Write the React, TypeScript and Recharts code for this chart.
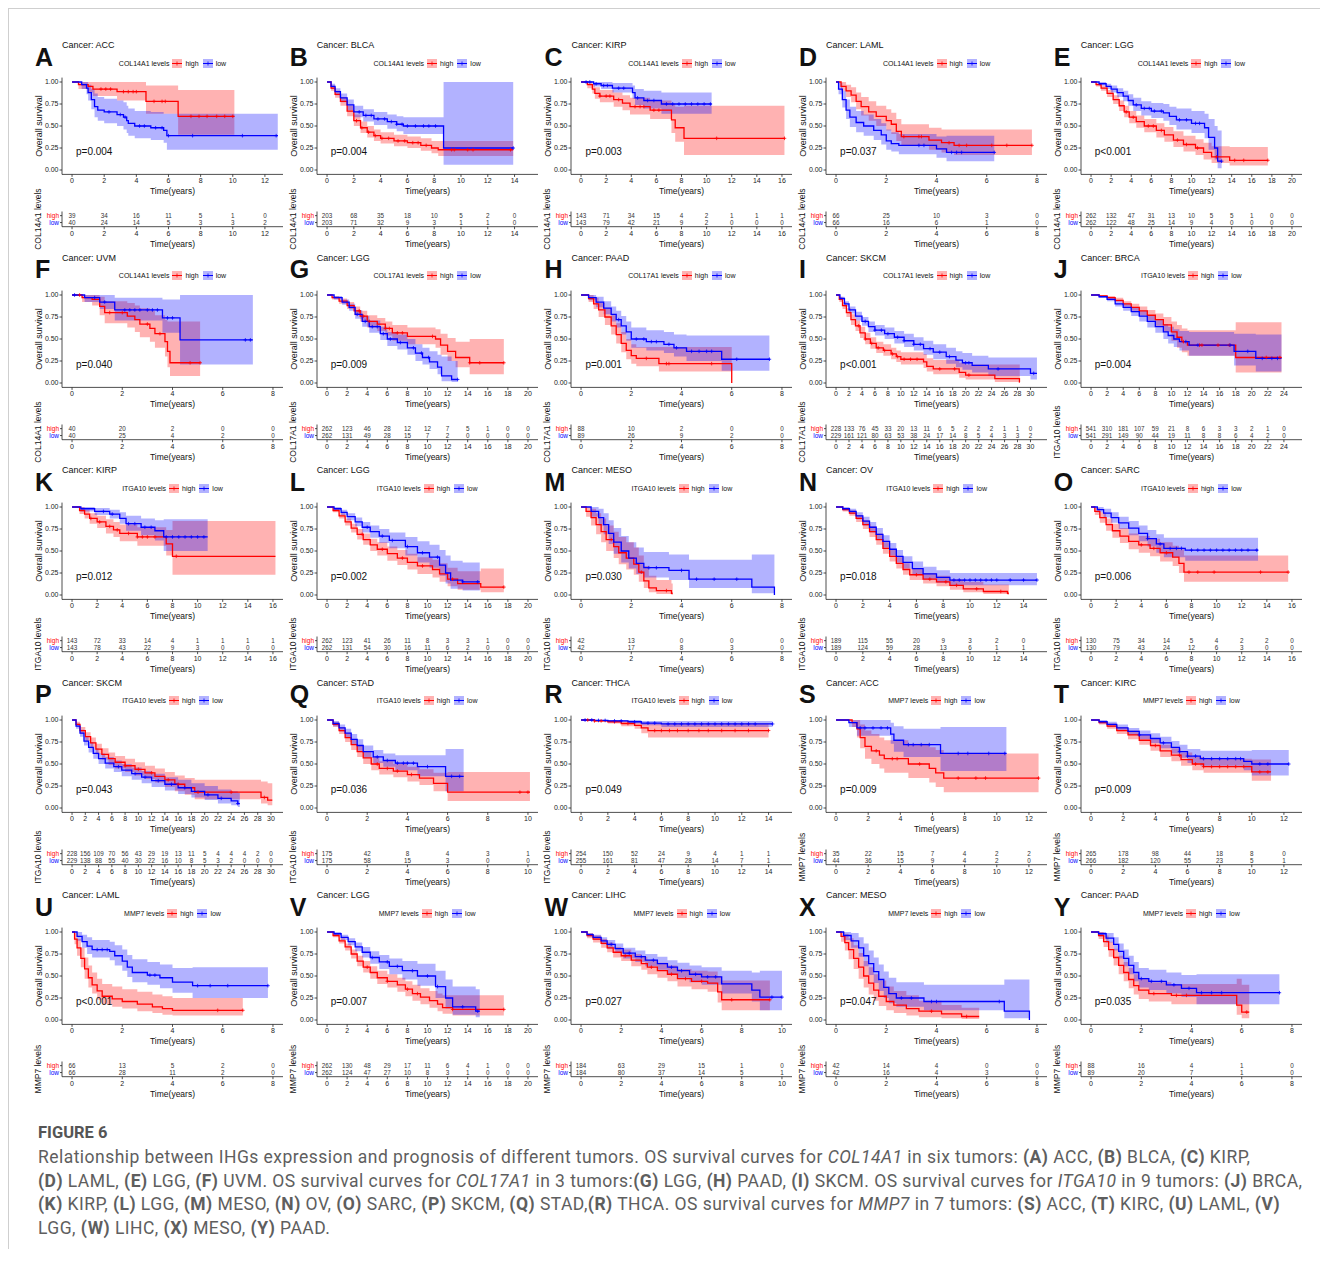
import React from 'react';
import { ComposedChart, Area, Line, Scatter, XAxis, YAxis } from 'recharts';

// each curve point: [time, survival, lower CI, upper CI]
type Pt = number[];

const A_high: Pt[] = [[0,1,1,1],[0.4,0.97,0.92,1],[1.0,0.95,0.88,1],[1.3,0.92,0.84,1],[2.8,0.89,0.79,1],[4.6,0.78,0.64,0.96],[6.6,0.61,0.40,0.91],[10.1,0.61,0.40,0.91]];
const A_low: Pt[] = [[0,1,1,1],[0.6,0.97,0.92,1],[0.9,0.93,0.86,1],[1.0,0.88,0.79,0.97],[1.2,0.80,0.69,0.92],[1.4,0.72,0.60,0.87],[1.6,0.68,0.56,0.83],[2.0,0.66,0.53,0.81],[2.8,0.63,0.50,0.79],[3.2,0.60,0.46,0.77],[3.4,0.56,0.42,0.73],[3.5,0.53,0.39,0.70],[3.9,0.50,0.36,0.67],[4.9,0.48,0.34,0.66],[5.7,0.45,0.31,0.64],[5.9,0.39,0.23,0.64],[12.8,0.39,0.23,0.64]];
const A_highCens = [1.8,2.1,2.4,3.2,3.5,3.8,4.0,5.1,5.6,5.8,7.4,7.9,8.4,9.0,9.5,10.0];
const A_lowCens = [2.3,3.0,3.3,4.2,4.5,5.2,5.6,6.0,7.5,10.6,12.7];

const B_high: Pt[] = [[0,1,1,1],[0.3,0.93,0.90,0.96],[0.6,0.86,0.82,0.90],[1.0,0.78,0.73,0.83],[1.5,0.67,0.61,0.73],[2.0,0.56,0.50,0.63],[2.5,0.48,0.42,0.55],[3.0,0.43,0.37,0.50],[3.5,0.39,0.33,0.46],[4.0,0.36,0.30,0.43],[5.0,0.33,0.27,0.40],[6.0,0.31,0.25,0.38],[7.0,0.28,0.22,0.36],[7.8,0.25,0.19,0.33],[8.3,0.23,0.16,0.33],[13.9,0.23,0.16,0.33]];
const B_low: Pt[] = [[0,1,1,1],[0.3,0.95,0.92,0.98],[0.6,0.89,0.85,0.93],[1.0,0.82,0.77,0.87],[1.5,0.74,0.68,0.80],[2.0,0.66,0.60,0.73],[2.7,0.62,0.55,0.69],[3.5,0.58,0.51,0.66],[4.5,0.55,0.47,0.63],[5.2,0.52,0.44,0.61],[5.7,0.50,0.41,0.60],[8.7,0.25,0.06,1.0],[13.9,0.25,0.06,1.0]];
const B_highCens = [2.2,2.6,3.1,3.6,4.1,4.6,5.3,5.8,6.4,6.8,7.4,9.3,9.5,10.5,10.9,13.7];
const B_lowCens = [2.4,2.9,3.3,3.8,4.3,4.8,5.2,5.6,6.0,6.6,7.2,7.6,8.1,13.9];

const C_high: Pt[] = [[0,1,1,1],[0.5,0.97,0.93,1],[0.9,0.92,0.87,0.98],[1.1,0.87,0.81,0.94],[1.5,0.84,0.77,0.91],[2.6,0.80,0.72,0.88],[3.3,0.76,0.68,0.85],[3.9,0.72,0.63,0.82],[5.5,0.68,0.58,0.79],[7.2,0.57,0.42,0.75],[7.5,0.48,0.32,0.72],[8.2,0.36,0.17,0.73],[16.2,0.36,0.17,0.73]];
const C_low: Pt[] = [[0,1,1,1],[1.0,0.98,0.95,1],[1.6,0.96,0.92,1],[2.5,0.93,0.88,0.99],[4.1,0.88,0.81,0.96],[4.3,0.82,0.74,0.92],[5.0,0.79,0.70,0.90],[6.4,0.75,0.64,0.88],[10.4,0.75,0.64,0.88]];
const C_highCens = [1.5,2.0,2.3,3.0,4.3,4.7,5.0,5.8,6.2,10.8,16.2];
const C_lowCens = [0.4,0.7,1.2,1.8,2.1,3.0,3.4,4.5,5.3,5.8,6.8,7.3,7.8,8.3,8.8,9.3,9.8,10.3];

const D_high: Pt[] = [[0,1,1,1],[0.2,0.95,0.90,1],[0.4,0.90,0.83,0.97],[0.6,0.85,0.77,0.94],[0.8,0.78,0.69,0.88],[1.0,0.72,0.62,0.83],[1.3,0.66,0.56,0.78],[1.6,0.61,0.50,0.73],[2.0,0.56,0.45,0.69],[2.2,0.52,0.41,0.65],[2.4,0.44,0.33,0.58],[2.6,0.38,0.28,0.52],[3.7,0.34,0.23,0.48],[4.2,0.31,0.20,0.46],[4.7,0.28,0.17,0.46],[7.8,0.28,0.17,0.46]];
const D_low: Pt[] = [[0,1,1,1],[0.1,0.92,0.86,0.99],[0.25,0.80,0.71,0.90],[0.4,0.68,0.58,0.80],[0.55,0.60,0.49,0.72],[0.8,0.54,0.43,0.67],[1.1,0.50,0.39,0.63],[1.5,0.45,0.34,0.58],[1.8,0.40,0.29,0.53],[2.0,0.33,0.23,0.46],[2.2,0.30,0.21,0.43],[2.5,0.28,0.18,0.41],[4.0,0.24,0.14,0.38],[4.4,0.20,0.10,0.39],[6.3,0.20,0.10,0.39]];
const D_highCens = [2.7,3.3,3.4,4.5,4.9,5.2,6.2,6.8,7.8];
const D_lowCens = [3.3,3.5,4.6,4.8,5.0,6.3];

const E_high: Pt[] = [[0,1,1,1],[0.5,0.97,0.95,0.99],[1,0.93,0.90,0.96],[1.6,0.87,0.83,0.91],[2.2,0.80,0.75,0.85],[2.8,0.73,0.67,0.79],[3.3,0.66,0.60,0.73],[3.8,0.60,0.53,0.67],[4.5,0.55,0.48,0.62],[5.3,0.50,0.43,0.58],[6.5,0.45,0.37,0.53],[7.3,0.40,0.32,0.49],[8.2,0.34,0.26,0.44],[9.2,0.29,0.21,0.39],[10.4,0.25,0.17,0.35],[11.2,0.20,0.12,0.31],[12.0,0.15,0.08,0.27],[13.8,0.11,0.05,0.26],[17.6,0.11,0.05,0.26]];
const E_low: Pt[] = [[0,1,1,1],[0.8,0.98,0.96,1],[1.5,0.95,0.92,0.98],[2.0,0.92,0.88,0.96],[2.6,0.88,0.83,0.93],[3.2,0.84,0.78,0.90],[3.7,0.79,0.73,0.86],[4.2,0.74,0.67,0.82],[5.0,0.70,0.62,0.78],[6.0,0.67,0.59,0.76],[7.2,0.65,0.56,0.75],[7.8,0.61,0.51,0.72],[8.5,0.57,0.46,0.70],[10.0,0.53,0.42,0.67],[11.3,0.48,0.36,0.64],[11.7,0.37,0.23,0.58],[12.3,0.25,0.12,0.50],[12.6,0.10,0.02,0.45],[13.0,0.10,0.02,0.45]];
const E_highCens = [3.5,4.2,5.7,6.2,7.0,8.6,9.5,10.6,12.5,14.3,15.2,17.6];
const E_lowCens = [4.5,5.3,5.8,6.3,7.0,8.8,9.5,10.4,10.8,13.0];

const F_high: Pt[] = [[0,1,1,1],[0.4,0.97,0.92,1],[0.8,0.95,0.88,1],[1.1,0.87,0.77,0.98],[1.3,0.80,0.68,0.93],[2.2,0.76,0.63,0.91],[2.5,0.72,0.58,0.88],[2.7,0.67,0.52,0.85],[3.1,0.62,0.47,0.82],[3.3,0.56,0.40,0.77],[3.7,0.47,0.30,0.72],[3.8,0.36,0.18,0.70],[3.9,0.23,0.08,0.70],[5.1,0.23,0.08,0.70]];
const F_low: Pt[] = [[0,1,1,1],[0.5,0.97,0.92,1],[1.1,0.92,0.84,1],[1.7,0.83,0.71,0.97],[3.6,0.74,0.57,0.95],[4.3,0.49,0.21,1.0],[7.2,0.49,0.21,1.0]];
const F_highCens = [0.3,1.5,2.0,3.0,3.5,4.7,5.1];
const F_lowCens = [0.1,0.9,1.3,2.1,2.3,2.5,2.7,3.0,3.2,3.4,3.8,4.0,6.9,7.1];

const G_high: Pt[] = [[0,1,1,1],[0.5,0.97,0.95,0.99],[1.2,0.93,0.90,0.96],[2,0.88,0.84,0.92],[2.7,0.82,0.77,0.87],[3.3,0.76,0.70,0.82],[4,0.70,0.63,0.77],[5,0.67,0.59,0.74],[5.8,0.62,0.54,0.70],[6.5,0.57,0.48,0.66],[8,0.53,0.44,0.63],[10.8,0.50,0.40,0.61],[11.3,0.43,0.32,0.56],[12.0,0.36,0.25,0.51],[12.8,0.29,0.18,0.47],[14.2,0.23,0.10,0.50],[17.6,0.23,0.10,0.50]];
const G_low: Pt[] = [[0,1,1,1],[0.7,0.97,0.95,0.99],[1.5,0.92,0.89,0.95],[2.2,0.86,0.82,0.90],[2.8,0.78,0.73,0.83],[3.5,0.70,0.64,0.76],[4.2,0.64,0.57,0.71],[5.3,0.56,0.49,0.64],[6.0,0.50,0.42,0.58],[7.0,0.46,0.38,0.55],[8.0,0.40,0.32,0.50],[8.8,0.34,0.25,0.44],[9.5,0.29,0.21,0.40],[10.2,0.24,0.16,0.36],[11.0,0.18,0.10,0.32],[11.4,0.08,0.02,0.30],[12.4,0.04,0.01,0.25],[13.0,0.04,0.01,0.25]];
const G_highCens = [3.2,3.6,4.2,5.8,6.2,7.0,7.5,10.5,14.2,15.2,17.6];
const G_lowCens = [3.0,3.8,4.5,5.0,5.6,6.3,7.3,8.6,9.4,10.1,13.0];

const H_high: Pt[] = [[0,1,1,1],[0.3,0.96,0.92,1],[0.5,0.90,0.84,0.97],[0.7,0.83,0.75,0.91],[0.95,0.75,0.66,0.85],[1.2,0.65,0.55,0.77],[1.4,0.55,0.45,0.68],[1.6,0.45,0.35,0.58],[1.8,0.37,0.27,0.50],[2.0,0.31,0.22,0.44],[2.2,0.28,0.19,0.41],[3.1,0.22,0.13,0.41],[6.0,0,0,0]];
const H_low: Pt[] = [[0,1,1,1],[0.3,0.97,0.94,1],[0.6,0.92,0.86,0.98],[0.9,0.85,0.78,0.93],[1.2,0.78,0.70,0.87],[1.4,0.72,0.63,0.82],[1.6,0.65,0.55,0.76],[1.8,0.58,0.48,0.70],[2.0,0.50,0.40,0.63],[2.6,0.47,0.37,0.60],[3.3,0.44,0.34,0.58],[3.7,0.40,0.30,0.55],[4.2,0.36,0.25,0.54],[5.6,0.27,0.14,0.54],[7.5,0.27,0.14,0.54]];
const H_highCens = [2.6,3.4,3.5,5.2];
const H_lowCens = [1.5,2.2,2.5,2.8,3.0,3.5,3.8,4.4,4.7,5.0,5.2,6.2,7.5];

const I_high: Pt[] = [[0,1,1,1],[0.5,0.95,0.92,0.98],[1.0,0.88,0.84,0.92],[1.6,0.80,0.75,0.85],[2.3,0.72,0.66,0.78],[3.0,0.65,0.59,0.71],[3.7,0.57,0.51,0.64],[4.5,0.50,0.44,0.57],[5.3,0.45,0.39,0.52],[6.2,0.40,0.34,0.47],[7.3,0.37,0.31,0.44],[8.5,0.33,0.27,0.40],[9.3,0.30,0.24,0.37],[10.0,0.27,0.21,0.35],[13.5,0.24,0.17,0.33],[14.0,0.19,0.13,0.28],[15.0,0.16,0.10,0.26],[19.0,0.12,0.06,0.23],[20.0,0.09,0.04,0.21],[24.5,0.05,0.01,0.21],[28.3,0.01,0.0,0.21],[28.35,0.01,0.0,0.21]];
const I_low: Pt[] = [[0,1,1,1],[0.6,0.96,0.94,0.98],[1.3,0.90,0.87,0.93],[2.0,0.83,0.79,0.87],[3.0,0.76,0.71,0.81],[4.0,0.70,0.65,0.75],[5.0,0.64,0.58,0.70],[6.0,0.60,0.54,0.66],[7.5,0.56,0.50,0.63],[9.0,0.52,0.45,0.59],[10.5,0.48,0.41,0.56],[12.0,0.44,0.37,0.52],[13.5,0.39,0.32,0.48],[15.0,0.35,0.27,0.44],[17.0,0.30,0.22,0.40],[18.5,0.26,0.18,0.36],[19.5,0.23,0.15,0.34],[21.0,0.20,0.12,0.31],[23.5,0.16,0.08,0.29],[30.0,0.11,0.04,0.29],[31.0,0.11,0.04,0.29]];
const I_highCens = [3.5,4.5,5.5,6.5,7.5,8.7,9.5,10.5,11.5,12.5,16.0,18.3,20.5];
const I_lowCens = [4.5,6.0,7.0,8.0,9.5,10.5,12.0,13.0,14.5,16.0,17.5,20.0,20.5,25.0,30.5];

const J_high: Pt[] = [[0,1,1,1],[1,0.99,0.98,1],[2,0.97,0.95,0.99],[3,0.94,0.92,0.97],[4,0.90,0.87,0.93],[5,0.86,0.82,0.90],[6,0.82,0.77,0.87],[7,0.77,0.71,0.83],[8,0.72,0.65,0.79],[9,0.66,0.58,0.75],[10,0.58,0.48,0.70],[10.7,0.52,0.40,0.66],[11.3,0.47,0.35,0.62],[12,0.43,0.31,0.60],[18,0.29,0.12,0.69],[23.7,0.29,0.12,0.69]];
const J_low: Pt[] = [[0,1,1,1],[1,0.98,0.97,0.99],[2,0.95,0.93,0.97],[3,0.90,0.87,0.93],[4,0.86,0.82,0.90],[5,0.81,0.76,0.86],[6,0.76,0.70,0.82],[7,0.70,0.63,0.77],[8,0.64,0.57,0.72],[9,0.58,0.50,0.67],[9.6,0.54,0.45,0.64],[10.3,0.50,0.41,0.61],[11,0.47,0.37,0.59],[12.2,0.43,0.31,0.58],[17.8,0.36,0.20,0.56],[20.5,0.28,0.13,0.55],[23.7,0.28,0.13,0.55]];
const J_highCens = [11.5,13.5,13.8,15.8,17.2,21.8,23.5];
const J_lowCens = [11.8,13.3,17.3,19.5,21.3,22.5,23.2];

const K_high: Pt[] = [[0,1,1,1],[0.6,0.96,0.92,1],[1.0,0.92,0.87,0.97],[1.4,0.87,0.81,0.93],[2.0,0.83,0.76,0.90],[2.7,0.78,0.70,0.86],[3.3,0.74,0.66,0.83],[3.8,0.70,0.61,0.80],[5.2,0.66,0.56,0.77],[7.5,0.58,0.45,0.74],[8.0,0.44,0.23,0.84],[16.2,0.44,0.23,0.84]];
const K_low: Pt[] = [[0,1,1,1],[0.7,0.98,0.95,1],[1.8,0.95,0.91,0.99],[3.0,0.92,0.87,0.97],[3.8,0.87,0.81,0.94],[4.3,0.81,0.73,0.90],[5.5,0.77,0.68,0.87],[6.6,0.73,0.62,0.85],[7.3,0.66,0.50,0.86],[10.8,0.66,0.50,0.86]];
const K_highCens = [1.5,2.2,3.0,3.6,4.5,5.2,5.6,6.0,6.6,8.3];
const K_lowCens = [2.5,3.2,4.5,5.0,5.8,6.3,7.5,8.0,8.5,9.0,9.5,10.0,10.5];

const L_high: Pt[] = [[0,1,1,1],[0.6,0.96,0.94,0.98],[1.2,0.90,0.87,0.93],[1.8,0.83,0.79,0.87],[2.4,0.76,0.71,0.81],[3.0,0.69,0.63,0.75],[3.6,0.63,0.57,0.70],[4.3,0.57,0.50,0.64],[5.0,0.52,0.45,0.60],[6.0,0.47,0.39,0.55],[7.0,0.42,0.34,0.51],[8.0,0.37,0.29,0.47],[9.0,0.33,0.24,0.43],[10.5,0.29,0.20,0.40],[11.2,0.24,0.15,0.36],[12.0,0.18,0.10,0.31],[13.0,0.13,0.06,0.27],[15.3,0.09,0.03,0.30],[17.6,0.09,0.03,0.30]];
const L_low: Pt[] = [[0,1,1,1],[0.7,0.98,0.96,1],[1.4,0.94,0.91,0.97],[2.0,0.89,0.85,0.93],[2.8,0.83,0.78,0.88],[3.5,0.77,0.71,0.83],[4.3,0.72,0.65,0.79],[5.2,0.67,0.59,0.75],[6.2,0.62,0.53,0.71],[7.8,0.55,0.45,0.66],[9.0,0.48,0.37,0.61],[10.2,0.43,0.31,0.57],[11.2,0.34,0.22,0.51],[11.8,0.25,0.13,0.45],[12.3,0.17,0.07,0.39],[13.5,0.15,0.05,0.37],[15.2,0.15,0.05,0.37]];
const L_highCens = [3.5,5.5,7.5,9.5,12.5,17.6];
const L_lowCens = [4.0,5.5,6.5,8.0,9.5,11.0,13.5,15.0];

const M_high: Pt[] = [[0,1,1,1],[0.2,0.95,0.89,1],[0.4,0.88,0.79,0.98],[0.6,0.80,0.69,0.93],[0.8,0.72,0.60,0.87],[1.0,0.63,0.50,0.79],[1.3,0.55,0.42,0.72],[1.5,0.48,0.35,0.66],[1.8,0.42,0.29,0.60],[2.1,0.35,0.23,0.54],[2.3,0.26,0.15,0.45],[2.5,0.16,0.08,0.33],[2.7,0.08,0.03,0.22],[3.0,0.05,0.01,0.17],[3.6,0.02,0.0,0.13],[3.65,0.02,0.0,0.13]];
const M_low: Pt[] = [[0,1,1,1],[0.4,0.95,0.89,1],[0.7,0.88,0.79,0.98],[0.9,0.80,0.69,0.93],[1.1,0.70,0.58,0.85],[1.3,0.60,0.47,0.76],[1.6,0.50,0.37,0.67],[1.9,0.42,0.30,0.60],[2.2,0.36,0.24,0.54],[2.5,0.31,0.20,0.49],[3.5,0.28,0.17,0.46],[4.3,0.18,0.08,0.40],[6.8,0.09,0.02,0.46],[7.7,0,0,0]];
const M_highCens = [1.2,2.4,3.4];
const M_lowCens = [2.7,3.0,4.0,4.6,5.3,6.2];

const N_high: Pt[] = [[0,1,1,1],[0.5,0.97,0.95,0.99],[1.0,0.93,0.90,0.96],[1.5,0.87,0.83,0.91],[2.0,0.80,0.75,0.85],[2.5,0.72,0.66,0.78],[3.0,0.63,0.57,0.70],[3.5,0.53,0.47,0.60],[4.0,0.44,0.38,0.51],[4.5,0.36,0.30,0.43],[5.0,0.29,0.23,0.36],[5.5,0.23,0.17,0.30],[6.5,0.18,0.13,0.25],[7.5,0.15,0.10,0.22],[8.5,0.11,0.06,0.18],[9.5,0.07,0.03,0.15],[11.0,0.04,0.01,0.12],[12.8,0.02,0.0,0.12],[12.9,0.02,0,0.12]];
const N_low: Pt[] = [[0,1,1,1],[0.5,0.98,0.96,1],[1.0,0.95,0.92,0.98],[1.5,0.90,0.86,0.94],[2.0,0.84,0.79,0.89],[2.5,0.77,0.71,0.83],[3.0,0.69,0.63,0.76],[3.5,0.61,0.54,0.68],[4.0,0.52,0.45,0.59],[4.5,0.44,0.37,0.51],[5.0,0.37,0.30,0.44],[5.7,0.30,0.24,0.38],[6.5,0.24,0.18,0.32],[7.5,0.20,0.14,0.28],[8.5,0.17,0.11,0.25],[15.0,0.17,0.11,0.25]];
const N_highCens = [6.0,7.0,8.2,9.0,10.5,12.3];
const N_lowCens = [8.8,9.2,9.6,10.0,10.4,10.8,11.2,11.6,12.0,13.0,14.0,15.0];

const O_high: Pt[] = [[0,1,1,1],[0.3,0.95,0.91,0.99],[0.7,0.88,0.82,0.94],[1.2,0.80,0.73,0.87],[1.7,0.73,0.65,0.81],[2.3,0.67,0.59,0.76],[3.0,0.61,0.52,0.70],[3.8,0.57,0.48,0.67],[4.7,0.53,0.44,0.64],[5.5,0.48,0.38,0.60],[6.5,0.43,0.33,0.56],[7.0,0.36,0.25,0.52],[7.4,0.26,0.15,0.45],[15.7,0.26,0.15,0.45]];
const O_low: Pt[] = [[0,1,1,1],[0.5,0.97,0.94,1],[1.0,0.93,0.88,0.98],[1.6,0.88,0.82,0.94],[2.2,0.82,0.75,0.89],[3.0,0.76,0.68,0.84],[3.8,0.70,0.61,0.79],[4.5,0.64,0.55,0.74],[5.2,0.58,0.48,0.69],[5.8,0.53,0.43,0.65],[7.5,0.51,0.39,0.65],[13.3,0.51,0.39,0.65]];
const O_highCens = [4.0,5.0,6.0,7.8,8.5,9.8,13.5,15.7];
const O_lowCens = [4.5,5.5,6.3,6.8,7.2,8.0,8.5,9.0,9.5,10.0,10.5,11.0,11.5,12.0,12.5,13.2];

const P_high: Pt[] = [[0,1,1,1],[0.6,0.95,0.93,0.98],[1.2,0.88,0.84,0.92],[2.0,0.81,0.76,0.86],[2.8,0.74,0.68,0.80],[3.6,0.67,0.61,0.73],[4.5,0.61,0.55,0.68],[5.5,0.56,0.49,0.63],[6.5,0.52,0.45,0.59],[8.0,0.48,0.41,0.56],[9.5,0.44,0.37,0.52],[11.0,0.40,0.33,0.48],[12.5,0.36,0.29,0.45],[14.0,0.32,0.24,0.41],[15.5,0.27,0.19,0.37],[17.0,0.23,0.15,0.34],[18.5,0.18,0.10,0.32],[28.5,0.12,0.05,0.30],[29.5,0.09,0.03,0.28],[30.2,0.09,0.03,0.28]];
const P_low: Pt[] = [[0,1,1,1],[0.6,0.93,0.90,0.96],[1.2,0.85,0.81,0.89],[1.8,0.76,0.71,0.81],[2.5,0.69,0.63,0.75],[3.2,0.62,0.56,0.68],[4.0,0.56,0.50,0.62],[5.0,0.51,0.45,0.58],[6.3,0.47,0.41,0.54],[7.5,0.43,0.36,0.50],[9.0,0.39,0.32,0.46],[10.5,0.35,0.28,0.42],[12.0,0.31,0.24,0.39],[14.0,0.27,0.20,0.35],[16.0,0.23,0.16,0.32],[18.0,0.19,0.12,0.28],[20.0,0.15,0.09,0.25],[22.0,0.11,0.05,0.21],[24.0,0.08,0.03,0.19],[25.0,0.05,0.01,0.17],[25.3,0.05,0.01,0.17]];
const P_highCens = [8.0,10.0,12.0,14.5,16.0,19.0,24.0,29.0];
const P_lowCens = [7.0,9.5,11.0,13.0,15.0,17.0,20.5,22.5,25.0];

const Q_high: Pt[] = [[0,1,1,1],[0.3,0.95,0.92,0.98],[0.6,0.88,0.84,0.92],[0.9,0.80,0.75,0.85],[1.2,0.72,0.66,0.78],[1.5,0.64,0.58,0.71],[1.8,0.57,0.50,0.64],[2.2,0.50,0.43,0.58],[2.6,0.45,0.38,0.53],[3.3,0.42,0.35,0.50],[4.0,0.38,0.30,0.47],[4.6,0.34,0.26,0.44],[5.3,0.28,0.19,0.40],[6.0,0.18,0.08,0.41],[10.1,0.18,0.08,0.41]];
const Q_low: Pt[] = [[0,1,1,1],[0.3,0.96,0.93,0.99],[0.6,0.91,0.87,0.95],[0.9,0.85,0.80,0.90],[1.2,0.78,0.72,0.84],[1.5,0.71,0.65,0.78],[1.8,0.64,0.57,0.71],[2.3,0.58,0.51,0.66],[2.8,0.54,0.47,0.62],[3.4,0.51,0.43,0.60],[4.5,0.47,0.36,0.60],[5.9,0.36,0.19,0.67],[6.8,0.36,0.19,0.67]];
const Q_highCens = [2.5,3.0,3.5,4.2,9.6,10.0];
const Q_lowCens = [2.5,3.0,3.5,3.8,4.0,4.3,5.0,6.2,6.6];

const R_high: Pt[] = [[0,1,1,1],[1.0,0.99,0.98,1],[2.0,0.98,0.96,1],[3.0,0.96,0.93,0.99],[4.0,0.94,0.90,0.98],[4.5,0.91,0.85,0.97],[5.0,0.88,0.80,0.96],[14.0,0.88,0.80,0.96]];
const R_low: Pt[] = [[0,1,1,1],[1.0,0.995,0.99,1],[2.0,0.99,0.975,1],[3.5,0.98,0.96,1],[4.5,0.965,0.94,0.99],[6.0,0.955,0.92,0.99],[14.3,0.955,0.92,0.99]];
const R_highCens = [0.5,1.0,1.5,2.5,3.5,5.5,6.0,6.6,7.2,8.0,8.8,9.5,10.5,11.5,12.5,14.0];
const R_lowCens = [0.3,0.8,1.3,1.8,2.5,3.0,4.0,5.0,5.5,6.5,7.0,7.5,8.0,8.5,9.0,9.5,10.0,10.5,11.0,11.5,12.0,12.5,13.0,14.3];

const S_high: Pt[] = [[0,1,1,1],[1.0,0.97,0.92,1],[1.3,0.90,0.80,1],[1.5,0.80,0.68,0.95],[1.8,0.70,0.56,0.88],[2.2,0.65,0.50,0.84],[2.7,0.60,0.45,0.80],[3.0,0.56,0.40,0.77],[4.5,0.50,0.34,0.73],[5.8,0.45,0.29,0.69],[6.2,0.40,0.24,0.66],[6.7,0.34,0.18,0.62],[12.6,0.34,0.18,0.62]];
const S_low: Pt[] = [[0,1,1,1],[0.8,0.97,0.92,1],[1.3,0.91,0.82,1],[3.4,0.84,0.73,0.97],[3.6,0.77,0.64,0.93],[4.2,0.72,0.58,0.90],[6.5,0.62,0.42,0.92],[10.6,0.62,0.42,0.92]];
const S_highCens = [2.5,3.5,3.8,5.2,7.6,8.7,9.3,12.6];
const S_lowCens = [1.5,1.8,2.3,2.8,3.2,4.5,4.8,5.3,5.8,7.6,8.2,9.5,10.5];

const T_high: Pt[] = [[0,1,1,1],[0.5,0.97,0.95,0.99],[1.0,0.93,0.90,0.96],[1.6,0.88,0.84,0.92],[2.3,0.83,0.78,0.88],[3.0,0.77,0.72,0.83],[3.7,0.71,0.65,0.78],[4.3,0.65,0.58,0.72],[5.0,0.60,0.53,0.68],[5.6,0.55,0.48,0.63],[6.3,0.50,0.43,0.58],[7.0,0.47,0.40,0.56],[10.0,0.41,0.31,0.55],[11.2,0.41,0.31,0.55]];
const T_low: Pt[] = [[0,1,1,1],[0.5,0.98,0.96,1],[1.0,0.95,0.92,0.98],[1.6,0.91,0.88,0.95],[2.3,0.87,0.83,0.91],[3.0,0.83,0.78,0.88],[3.7,0.79,0.74,0.85],[4.3,0.74,0.68,0.81],[5.0,0.69,0.62,0.76],[5.5,0.64,0.57,0.72],[6.0,0.59,0.51,0.67],[6.8,0.56,0.48,0.65],[9.5,0.53,0.43,0.65],[10.0,0.50,0.37,0.66],[12.3,0.50,0.37,0.66]];
const T_highCens = [4.0,5.5,6.5,7.0,7.5,8.0,8.5,9.0,9.5,10.5,11.0];
const T_lowCens = [3.0,4.5,5.5,6.0,6.5,7.0,7.5,8.0,8.5,9.0,9.3,10.5,11.0,12.3];

const U_high: Pt[] = [[0,1,1,1],[0.1,0.92,0.86,0.99],[0.2,0.82,0.73,0.92],[0.35,0.70,0.60,0.82],[0.5,0.58,0.47,0.71],[0.65,0.48,0.37,0.62],[0.8,0.40,0.30,0.54],[1.0,0.33,0.23,0.47],[1.2,0.27,0.18,0.41],[1.6,0.24,0.15,0.38],[2.0,0.21,0.13,0.35],[2.6,0.18,0.10,0.32],[3.2,0.15,0.08,0.29],[3.6,0.13,0.06,0.27],[4.0,0.11,0.05,0.25],[6.8,0.11,0.05,0.25]];
const U_low: Pt[] = [[0,1,1,1],[0.2,0.95,0.90,1],[0.4,0.89,0.82,0.97],[0.6,0.84,0.75,0.94],[0.8,0.80,0.71,0.91],[1.5,0.78,0.68,0.89],[1.7,0.73,0.62,0.85],[2.0,0.67,0.56,0.80],[2.2,0.60,0.49,0.74],[2.4,0.54,0.43,0.69],[3.0,0.51,0.40,0.66],[3.5,0.48,0.36,0.63],[4.0,0.43,0.31,0.59],[4.8,0.39,0.25,0.60],[7.8,0.39,0.25,0.60]];
const U_highCens = [5.8,6.8];
const U_lowCens = [1.0,1.2,1.4,3.1,3.3,5.0,5.5,6.2,7.8];

const V_high: Pt[] = [[0,1,1,1],[0.6,0.96,0.94,0.98],[1.2,0.90,0.87,0.93],[1.8,0.83,0.79,0.87],[2.4,0.75,0.70,0.80],[3.0,0.67,0.61,0.73],[3.6,0.60,0.54,0.67],[4.3,0.54,0.47,0.61],[5.0,0.48,0.41,0.56],[6.0,0.44,0.37,0.52],[7.0,0.40,0.32,0.48],[7.8,0.35,0.27,0.44],[8.5,0.30,0.22,0.40],[9.3,0.26,0.18,0.36],[10.2,0.22,0.14,0.33],[11.0,0.18,0.10,0.30],[11.5,0.14,0.07,0.28],[12.5,0.12,0.05,0.28],[17.6,0.12,0.05,0.28]];
const V_low: Pt[] = [[0,1,1,1],[0.7,0.98,0.96,1],[1.4,0.94,0.91,0.97],[2.1,0.89,0.85,0.93],[2.8,0.83,0.78,0.88],[3.5,0.77,0.71,0.83],[4.3,0.71,0.64,0.78],[5.2,0.66,0.58,0.74],[6.2,0.61,0.52,0.70],[7.5,0.56,0.46,0.67],[9.0,0.50,0.39,0.64],[10.8,0.38,0.25,0.56],[11.8,0.25,0.13,0.46],[12.5,0.15,0.06,0.38],[14.8,0.10,0.03,0.35],[15.2,0.10,0.03,0.35]];
const V_highCens = [4.0,6.0,8.0,9.0,12.5,17.6];
const V_lowCens = [4.5,6.0,7.0,8.5,10.0,11.0,13.5,15.0];

const W_high: Pt[] = [[0,1,1,1],[0.3,0.96,0.93,0.99],[0.6,0.92,0.88,0.96],[1.0,0.87,0.82,0.92],[1.3,0.82,0.77,0.88],[1.6,0.77,0.71,0.83],[2.0,0.73,0.67,0.80],[2.5,0.68,0.61,0.75],[3.0,0.64,0.57,0.72],[3.3,0.60,0.52,0.68],[3.8,0.56,0.48,0.65],[4.3,0.52,0.44,0.62],[4.8,0.47,0.38,0.58],[5.5,0.44,0.35,0.56],[6.3,0.42,0.32,0.55],[6.8,0.32,0.20,0.50],[7.0,0.23,0.11,0.45],[9.4,0.23,0.11,0.45]];
const W_low: Pt[] = [[0,1,1,1],[0.3,0.97,0.95,0.99],[0.6,0.94,0.91,0.97],[1.0,0.90,0.86,0.94],[1.3,0.86,0.81,0.91],[1.7,0.81,0.76,0.87],[2.1,0.76,0.70,0.82],[2.7,0.72,0.66,0.79],[3.2,0.68,0.61,0.75],[3.8,0.64,0.57,0.72],[4.3,0.60,0.52,0.68],[4.8,0.56,0.48,0.65],[5.4,0.52,0.43,0.62],[6.0,0.49,0.40,0.60],[7.0,0.41,0.30,0.56],[8.5,0.34,0.21,0.54],[8.9,0.26,0.11,0.56],[10.0,0.26,0.11,0.56]];
const W_highCens = [2.2,3.5,4.5,5.2,6.0,7.5,9.4];
const W_lowCens = [1.5,2.4,3.0,3.6,4.5,5.0,5.7,6.3,6.7,9.5,10.0];

const X_high: Pt[] = [[0,1,1,1],[0.2,0.95,0.89,1],[0.35,0.88,0.79,0.98],[0.5,0.80,0.69,0.93],[0.7,0.70,0.58,0.85],[0.9,0.60,0.47,0.76],[1.1,0.50,0.37,0.67],[1.3,0.42,0.29,0.60],[1.5,0.34,0.22,0.52],[1.7,0.27,0.16,0.45],[2.0,0.21,0.11,0.38],[2.3,0.17,0.08,0.33],[2.8,0.13,0.05,0.28],[3.3,0.10,0.03,0.22],[4.2,0.07,0.02,0.17],[5.0,0.04,0.01,0.14],[5.7,0.04,0.01,0.14]];
const X_low: Pt[] = [[0,1,1,1],[0.3,0.96,0.91,1],[0.6,0.90,0.82,0.99],[0.9,0.82,0.72,0.94],[1.1,0.73,0.61,0.87],[1.3,0.64,0.51,0.79],[1.5,0.55,0.42,0.71],[1.7,0.46,0.33,0.63],[1.9,0.37,0.25,0.55],[2.1,0.30,0.19,0.48],[2.4,0.25,0.15,0.43],[3.5,0.21,0.11,0.40],[6.7,0.10,0.02,0.46],[7.7,0,0,0]];
const X_highCens = [3.8,5.2];
const X_lowCens = [2.6,3.0,3.8,4.0,6.5];

const Y_high: Pt[] = [[0,1,1,1],[0.3,0.96,0.92,1],[0.5,0.89,0.83,0.96],[0.7,0.80,0.72,0.89],[0.9,0.71,0.62,0.81],[1.1,0.62,0.52,0.73],[1.3,0.54,0.44,0.66],[1.5,0.46,0.36,0.59],[1.7,0.39,0.29,0.52],[1.9,0.34,0.24,0.47],[2.3,0.30,0.21,0.43],[3.2,0.28,0.18,0.41],[5.8,0.17,0.06,0.47],[6.0,0.09,0.02,0.40],[6.3,0.09,0.02,0.40]];
const Y_low: Pt[] = [[0,1,1,1],[0.3,0.98,0.95,1],[0.6,0.93,0.88,0.99],[0.9,0.86,0.79,0.94],[1.1,0.78,0.70,0.87],[1.3,0.70,0.61,0.80],[1.5,0.62,0.52,0.73],[1.7,0.54,0.44,0.66],[1.9,0.47,0.37,0.59],[2.3,0.44,0.34,0.57],[3.0,0.40,0.30,0.54],[3.6,0.36,0.26,0.51],[4.2,0.31,0.18,0.52],[7.5,0.31,0.18,0.52]];
const Y_highCens = [2.5,3.4,3.8,6.2];
const Y_lowCens = [2.0,2.4,2.8,3.3,3.9,4.4,4.8,5.2,7.5];

// time ticks
const T8 = [0, 2, 4, 6, 8];
const T10 = [0, 2, 4, 6, 8, 10];
const T12 = [0, 2, 4, 6, 8, 10, 12];
const T14 = [0, 2, 4, 6, 8, 10, 12, 14];
const T16 = [0, 2, 4, 6, 8, 10, 12, 14, 16];
const T20 = [0, 2, 4, 6, 8, 10, 12, 14, 16, 18, 20];
const T24 = [0, 2, 4, 6, 8, 10, 12, 14, 16, 18, 20, 22, 24];
const T30 = [0, 2, 4, 6, 8, 10, 12, 14, 16, 18, 20, 22, 24, 26, 28, 30];
const SURV_TICKS = [0, 0.25, 0.5, 0.75, 1];

// numbers at risk
const A_nHigh = [39, 34, 16, 11, 5, 1, 0];
const A_nLow = [40, 24, 14, 5, 3, 3, 2];
const B_nHigh = [203, 68, 35, 18, 10, 5, 2, 0];
const B_nLow = [203, 71, 32, 9, 3, 1, 1, 0];
const C_nHigh = [143, 71, 34, 15, 4, 2, 1, 1, 1];
const C_nLow = [143, 79, 42, 21, 9, 2, 0, 0, 0];
const D_nHigh = [66, 25, 10, 3, 0];
const D_nLow = [66, 16, 6, 1, 0];
const E_nHigh = [262, 132, 47, 31, 13, 10, 5, 5, 1, 0, 0];
const E_nLow = [262, 122, 48, 25, 14, 9, 4, 0, 0, 0, 0];
const F_nHigh = [40, 20, 2, 0, 0];
const F_nLow = [40, 25, 4, 2, 0];
const G_nHigh = [262, 123, 46, 28, 12, 12, 7, 5, 1, 0, 0];
const G_nLow = [262, 131, 49, 28, 15, 7, 2, 0, 0, 0, 0];
const H_nHigh = [88, 10, 2, 0, 0];
const H_nLow = [89, 26, 9, 2, 0];
const I_nHigh = [228, 133, 76, 45, 33, 20, 13, 11, 6, 5, 2, 2, 2, 1, 1, 0];
const I_nLow = [229, 161, 121, 80, 63, 53, 38, 24, 17, 14, 8, 5, 4, 3, 3, 2];
const J_nHigh = [541, 310, 181, 107, 59, 21, 8, 6, 3, 3, 2, 1, 0];
const J_nLow = [541, 291, 149, 90, 44, 19, 11, 8, 8, 6, 4, 2, 0];
const K_nHigh = [143, 72, 33, 14, 4, 1, 1, 1, 1];
const K_nLow = [143, 78, 43, 22, 9, 3, 0, 0, 0];
const L_nHigh = [262, 123, 41, 26, 11, 8, 3, 3, 1, 0, 0];
const L_nLow = [262, 131, 54, 30, 16, 11, 6, 2, 0, 0, 0];
const M_nHigh = [42, 13, 0, 0, 0];
const M_nLow = [42, 17, 8, 3, 0];
const N_nHigh = [189, 115, 55, 20, 9, 3, 2, 0];
const N_nLow = [189, 124, 59, 28, 13, 6, 1, 1];
const O_nHigh = [130, 75, 34, 14, 5, 4, 2, 2, 0];
const O_nLow = [130, 79, 43, 24, 12, 6, 3, 0, 0];
const P_nHigh = [228, 156, 109, 70, 56, 43, 29, 19, 13, 11, 5, 4, 4, 4, 2, 0];
const P_nLow = [229, 138, 88, 55, 40, 30, 22, 16, 10, 8, 5, 3, 2, 0, 0, 0];
const Q_nHigh = [175, 42, 8, 4, 3, 1];
const Q_nLow = [175, 58, 15, 3, 0, 0];
const R_nHigh = [254, 150, 52, 24, 9, 4, 1, 1];
const R_nLow = [255, 161, 81, 47, 28, 14, 7, 1];
const S_nHigh = [35, 22, 15, 7, 4, 2, 2];
const S_nLow = [44, 36, 15, 9, 4, 2, 0];
const T_nHigh = [265, 178, 98, 44, 18, 8, 0];
const T_nLow = [266, 182, 120, 55, 23, 5, 1];
const U_nHigh = [66, 13, 5, 2, 0];
const U_nLow = [66, 28, 11, 2, 0];
const V_nHigh = [262, 130, 48, 29, 17, 11, 6, 4, 1, 0, 0];
const V_nLow = [262, 124, 47, 27, 10, 8, 3, 1, 0, 0, 0];
const W_nHigh = [184, 63, 29, 15, 1, 0];
const W_nLow = [184, 80, 37, 14, 5, 1];
const X_nHigh = [42, 14, 4, 0, 0];
const X_nLow = [42, 16, 4, 3, 0];
const Y_nHigh = [88, 16, 4, 1, 0];
const Y_nLow = [89, 20, 7, 1, 0];

interface PanelDef {
  letter: string;
  cancer: string;
  gene: string;
  p: string;
  xMax: number;
  ticks: number[];
  high: Pt[];
  low: Pt[];
  highCens: number[];
  lowCens: number[];
  nHigh: number[];
  nLow: number[];
}

const PANELS: PanelDef[] = [
  { letter: 'A', cancer: 'ACC', gene: 'COL14A1', p: 'p=0.004', xMax: 12.5, ticks: T12, high: A_high, low: A_low, highCens: A_highCens, lowCens: A_lowCens, nHigh: A_nHigh, nLow: A_nLow },
  { letter: 'B', cancer: 'BLCA', gene: 'COL14A1', p: 'p=0.004', xMax: 15, ticks: T14, high: B_high, low: B_low, highCens: B_highCens, lowCens: B_lowCens, nHigh: B_nHigh, nLow: B_nLow },
  { letter: 'C', cancer: 'KIRP', gene: 'COL14A1', p: 'p=0.003', xMax: 16, ticks: T16, high: C_high, low: C_low, highCens: C_highCens, lowCens: C_lowCens, nHigh: C_nHigh, nLow: C_nLow },
  { letter: 'D', cancer: 'LAML', gene: 'COL14A1', p: 'p=0.037', xMax: 8, ticks: T8, high: D_high, low: D_low, highCens: D_highCens, lowCens: D_lowCens, nHigh: D_nHigh, nLow: D_nLow },
  { letter: 'E', cancer: 'LGG', gene: 'COL14A1', p: 'p<0.001', xMax: 20, ticks: T20, high: E_high, low: E_low, highCens: E_highCens, lowCens: E_lowCens, nHigh: E_nHigh, nLow: E_nLow },
  { letter: 'F', cancer: 'UVM', gene: 'COL14A1', p: 'p=0.040', xMax: 8, ticks: T8, high: F_high, low: F_low, highCens: F_highCens, lowCens: F_lowCens, nHigh: F_nHigh, nLow: F_nLow },
  { letter: 'G', cancer: 'LGG', gene: 'COL17A1', p: 'p=0.009', xMax: 20, ticks: T20, high: G_high, low: G_low, highCens: G_highCens, lowCens: G_lowCens, nHigh: G_nHigh, nLow: G_nLow },
  { letter: 'H', cancer: 'PAAD', gene: 'COL17A1', p: 'p=0.001', xMax: 8, ticks: T8, high: H_high, low: H_low, highCens: H_highCens, lowCens: H_lowCens, nHigh: H_nHigh, nLow: H_nLow },
  { letter: 'I', cancer: 'SKCM', gene: 'COL17A1', p: 'p<0.001', xMax: 31, ticks: T30, high: I_high, low: I_low, highCens: I_highCens, lowCens: I_lowCens, nHigh: I_nHigh, nLow: I_nLow },
  { letter: 'J', cancer: 'BRCA', gene: 'ITGA10', p: 'p=0.004', xMax: 25, ticks: T24, high: J_high, low: J_low, highCens: J_highCens, lowCens: J_lowCens, nHigh: J_nHigh, nLow: J_nLow },
  { letter: 'K', cancer: 'KIRP', gene: 'ITGA10', p: 'p=0.012', xMax: 16, ticks: T16, high: K_high, low: K_low, highCens: K_highCens, lowCens: K_lowCens, nHigh: K_nHigh, nLow: K_nLow },
  { letter: 'L', cancer: 'LGG', gene: 'ITGA10', p: 'p=0.002', xMax: 20, ticks: T20, high: L_high, low: L_low, highCens: L_highCens, lowCens: L_lowCens, nHigh: L_nHigh, nLow: L_nLow },
  { letter: 'M', cancer: 'MESO', gene: 'ITGA10', p: 'p=0.030', xMax: 8, ticks: T8, high: M_high, low: M_low, highCens: M_highCens, lowCens: M_lowCens, nHigh: M_nHigh, nLow: M_nLow },
  { letter: 'N', cancer: 'OV', gene: 'ITGA10', p: 'p=0.018', xMax: 15, ticks: T14, high: N_high, low: N_low, highCens: N_highCens, lowCens: N_lowCens, nHigh: N_nHigh, nLow: N_nLow },
  { letter: 'O', cancer: 'SARC', gene: 'ITGA10', p: 'p=0.006', xMax: 16, ticks: T16, high: O_high, low: O_low, highCens: O_highCens, lowCens: O_lowCens, nHigh: O_nHigh, nLow: O_nLow },
  { letter: 'P', cancer: 'SKCM', gene: 'ITGA10', p: 'p=0.043', xMax: 30.3, ticks: T30, high: P_high, low: P_low, highCens: P_highCens, lowCens: P_lowCens, nHigh: P_nHigh, nLow: P_nLow },
  { letter: 'Q', cancer: 'STAD', gene: 'ITGA10', p: 'p=0.036', xMax: 10, ticks: T10, high: Q_high, low: Q_low, highCens: Q_highCens, lowCens: Q_lowCens, nHigh: Q_nHigh, nLow: Q_nLow },
  { letter: 'R', cancer: 'THCA', gene: 'ITGA10', p: 'p=0.049', xMax: 15, ticks: T14, high: R_high, low: R_low, highCens: R_highCens, lowCens: R_lowCens, nHigh: R_nHigh, nLow: R_nLow },
  { letter: 'S', cancer: 'ACC', gene: 'MMP7', p: 'p=0.009', xMax: 12.5, ticks: T12, high: S_high, low: S_low, highCens: S_highCens, lowCens: S_lowCens, nHigh: S_nHigh, nLow: S_nLow },
  { letter: 'T', cancer: 'KIRC', gene: 'MMP7', p: 'p=0.009', xMax: 12.5, ticks: T12, high: T_high, low: T_low, highCens: T_highCens, lowCens: T_lowCens, nHigh: T_nHigh, nLow: T_nLow },
  { letter: 'U', cancer: 'LAML', gene: 'MMP7', p: 'p<0.001', xMax: 8, ticks: T8, high: U_high, low: U_low, highCens: U_highCens, lowCens: U_lowCens, nHigh: U_nHigh, nLow: U_nLow },
  { letter: 'V', cancer: 'LGG', gene: 'MMP7', p: 'p=0.007', xMax: 20, ticks: T20, high: V_high, low: V_low, highCens: V_highCens, lowCens: V_lowCens, nHigh: V_nHigh, nLow: V_nLow },
  { letter: 'W', cancer: 'LIHC', gene: 'MMP7', p: 'p=0.027', xMax: 10, ticks: T10, high: W_high, low: W_low, highCens: W_highCens, lowCens: W_lowCens, nHigh: W_nHigh, nLow: W_nLow },
  { letter: 'X', cancer: 'MESO', gene: 'MMP7', p: 'p=0.047', xMax: 8, ticks: T8, high: X_high, low: X_low, highCens: X_highCens, lowCens: X_lowCens, nHigh: X_nHigh, nLow: X_nLow },
  { letter: 'Y', cancer: 'PAAD', gene: 'MMP7', p: 'p=0.035', xMax: 8, ticks: T8, high: Y_high, low: Y_low, highCens: Y_highCens, lowCens: Y_lowCens, nHigh: Y_nHigh, nLow: Y_nLow },
];

const RED = '#FF0000';
const BLUE = '#0000FF';
const INK = '#222222';
const FONT = '"Liberation Sans", Arial, Helvetica, sans-serif';
const COL_W = 254.7;
const ROW_H = 212.6;

function toRows(c: Pt[]) {
  return c.map(([t, s, lo, up]) => ({ t, s, band: [lo, up] }));
}

// survival value of a step curve at time t
function stepAt(c: Pt[], t: number) {
  let s = c[0][1];
  for (const p of c) if (p[0] <= t) s = p[1];
  return s;
}

function Cross(props: any) {
  const { cx, cy, fill } = props;
  if (cx == null || cy == null) return null;
  return (
    <g stroke={fill} strokeWidth={0.8}>
      <line x1={cx - 1.8} x2={cx + 1.8} y1={cy} y2={cy} />
      <line x1={cx} x2={cx} y1={cy - 1.8} y2={cy + 1.8} />
    </g>
  );
}

function RiskNum(props: any) {
  const { cx, cy, payload } = props;
  return (
    <text x={cx} y={cy} textAnchor="middle" dominantBaseline="central" fontSize={6.3} fill="#333" fontFamily={FONT}>
      {payload.n}
    </text>
  );
}

function RiskTick(props: any) {
  const { x, y, payload } = props;
  const hi = payload.value === 2;
  return (
    <text x={x} y={y} textAnchor="end" dominantBaseline="central" fontSize={6.5} fill={hi ? RED : BLUE} fontFamily={FONT}>
      {hi ? 'high' : 'low'}
    </text>
  );
}

// rotated axis title drawn inside the axis strip
function SideTitle(props: any) {
  const { viewBox, value, size } = props;
  const cy = viewBox.y + viewBox.height / 2;
  return (
    <text
      x={5.5} y={cy} transform={`rotate(-90 5.5 ${cy})`} textAnchor="middle" dominantBaseline="central"
      fontSize={size} fill="#111" fontFamily={FONT}
    >
      {value}
    </text>
  );
}

function Key({ color }: { color: string }) {
  return (
    <svg width={10} height={9} style={{ display: 'block' }}>
      <rect x={0} y={0} width={10} height={9} fill={color} fillOpacity={0.3} />
      <line x1={0} x2={10} y1={4.5} y2={4.5} stroke={color} strokeWidth={1} />
      <line x1={5} x2={5} y1={2.5} y2={6.5} stroke={color} strokeWidth={0.8} />
    </svg>
  );
}

const axisLine = { stroke: INK, strokeWidth: 0.8 };
const tickStyle = { fontSize: 7, fill: INK, fontFamily: FONT };

function Panel({ def, left, top }: { def: PanelDef; left: number; top: number }) {
  const domain = [-0.05 * def.xMax, 1.05 * def.xMax];
  const high = toRows(def.high);
  const low = toRows(def.low);
  const highC = def.highCens.map((t) => ({ t, s: stepAt(def.high, t) }));
  const lowC = def.lowCens.map((t) => ({ t, s: stepAt(def.low, t) }));
  const risk = [
    ...def.nHigh.map((n, i) => ({ t: def.ticks[i], y: 2, n })),
    ...def.nLow.map((n, i) => ({ t: def.ticks[i], y: 1, n })),
  ];

  return (
    <div style={{ position: 'absolute', left, top, width: 254, height: 212, fontFamily: FONT, color: '#111' }}>
      <div style={{ position: 'absolute', left: 2, top: 6.5, fontSize: 25, fontWeight: 700, lineHeight: '25px' }}>{def.letter}</div>
      <div style={{ position: 'absolute', left: 29, top: 2, fontSize: 9, lineHeight: '10px', whiteSpace: 'nowrap' }}>
        Cancer: {def.cancer}
      </div>
      <div
        style={{
          position: 'absolute', left: 29, top: 20.5, width: 221, height: 9, display: 'flex',
          justifyContent: 'center', alignItems: 'center', fontSize: 7, lineHeight: '9px', whiteSpace: 'nowrap',
        }}
      >
        <span style={{ marginRight: 3 }}>{def.gene} levels</span>
        <Key color={RED} />
        <span style={{ margin: '0 4px 0 3px' }}>high</span>
        <Key color={BLUE} />
        <span style={{ marginLeft: 3 }}>low</span>
      </div>
      <div style={{ position: 'absolute', left: 0, top: 0 }}>
        <ComposedChart width={254} height={160} margin={{ top: 39.6, right: 4, bottom: 0, left: 0 }}>
          <XAxis
            type="number" dataKey="t" domain={domain} ticks={def.ticks} allowDataOverflow interval={0}
            tick={tickStyle} tickSize={2.5} tickMargin={1.5} height={23.6} axisLine={axisLine} tickLine={axisLine}
            label={{ value: 'Time(years)', position: 'insideBottom', offset: 4, fontSize: 8.5, fill: '#111', fontFamily: FONT }}
          />
          <YAxis
            type="number" domain={[-0.05, 1.05]} ticks={SURV_TICKS} allowDataOverflow interval={0}
            tickFormatter={(v: number) => v.toFixed(2)} width={29} tick={tickStyle} tickSize={2.5} tickMargin={1}
            axisLine={axisLine} tickLine={axisLine}
            label={<SideTitle value="Overall survival" size={9} />}
          />
          <Area data={high} dataKey="band" type="stepAfter" fill={RED} fillOpacity={0.3} stroke="none" isAnimationActive={false} />
          <Area data={low} dataKey="band" type="stepAfter" fill={BLUE} fillOpacity={0.3} stroke="none" isAnimationActive={false} />
          <Line data={high} dataKey="s" type="stepAfter" stroke={RED} strokeWidth={1.3} dot={false} activeDot={false} isAnimationActive={false} />
          <Line data={low} dataKey="s" type="stepAfter" stroke={BLUE} strokeWidth={1.3} dot={false} activeDot={false} isAnimationActive={false} />
          <Scatter data={highC} dataKey="s" fill={RED} shape={Cross} isAnimationActive={false} />
          <Scatter data={lowC} dataKey="s" fill={BLUE} shape={Cross} isAnimationActive={false} />
        </ComposedChart>
      </div>
      <div style={{ position: 'absolute', left: 43, top: 108, fontSize: 10, lineHeight: '12px', whiteSpace: 'nowrap' }}>{def.p}</div>
      <div style={{ position: 'absolute', left: 0, top: 146 }}>
        <ComposedChart width={254} height={66} margin={{ top: 27.5, right: 4, bottom: 0, left: 0 }}>
          <XAxis
            type="number" dataKey="t" domain={domain} ticks={def.ticks} allowDataOverflow interval={0}
            tick={tickStyle} tickSize={2.5} tickMargin={1.5} height={23.3} axisLine={axisLine} tickLine={axisLine}
            label={{ value: 'Time(years)', position: 'insideBottom', offset: 3.5, fontSize: 8.5, fill: '#111', fontFamily: FONT }}
          />
          <YAxis
            type="number" domain={[0.4, 2.6]} ticks={[1, 2]} allowDataOverflow interval={0} width={29}
            tick={<RiskTick />} tickSize={2} tickMargin={1} axisLine={axisLine} tickLine={axisLine}
            label={<SideTitle value={`${def.gene} levels`} size={8.5} />}
          />
          <Scatter data={risk} dataKey="y" shape={RiskNum} isAnimationActive={false} />
        </ComposedChart>
      </div>
    </div>
  );
}

const capStyle: React.CSSProperties = { whiteSpace: 'nowrap' };

export default function App() {
  return (
    <div
      style={{
        position: 'relative', width: 1311, height: 1240, borderTop: '1px solid #cfcfcf', borderLeft: '1px solid #cfcfcf',
        overflow: 'hidden', background: '#fff',
      }}
    >
      {PANELS.map((def, i) => (
        <Panel key={def.letter} def={def} left={24 + (i % 5) * COL_W} top={29 + Math.floor(i / 5) * ROW_H} />
      ))}
      <div style={{ position: 'absolute', left: 29, top: 1112, fontFamily: 'Roboto, "Open Sans", sans-serif', color: '#5e5e5e' }}>
        <div style={{ fontSize: 16.5, lineHeight: '24px', fontWeight: 700, color: '#555' }}>FIGURE 6</div>
        <div style={{ fontSize: 17.5, lineHeight: '23.7px', marginTop: 1, letterSpacing: 0.46 }}>
          <div style={capStyle}>
            Relationship between IHGs expression and prognosis of different tumors. OS survival curves for <i>COL14A1</i> in six tumors: <b>(A)</b> ACC, <b>(B)</b> BLCA, <b>(C)</b> KIRP,
          </div>
          <div style={capStyle}>
            <b>(D)</b> LAML, <b>(E)</b> LGG, <b>(F)</b> UVM. OS survival curves for <i>COL17A1</i> in 3 tumors:<b>(G)</b> LGG, <b>(H)</b> PAAD, <b>(I)</b> SKCM. OS survival curves for <i>ITGA10</i> in 9 tumors: <b>(J)</b> BRCA,
          </div>
          <div style={capStyle}>
            <b>(K)</b> KIRP, <b>(L)</b> LGG, <b>(M)</b> MESO, <b>(N)</b> OV, <b>(O)</b> SARC, <b>(P)</b> SKCM, <b>(Q)</b> STAD,<b>(R)</b> THCA. OS survival curves for <i>MMP7</i> in 7 tumors: <b>(S)</b> ACC, <b>(T)</b> KIRC, <b>(U)</b> LAML, <b>(V)</b>
          </div>
          <div style={capStyle}>
            LGG, <b>(W)</b> LIHC, <b>(X)</b> MESO, <b>(Y)</b> PAAD.
          </div>
        </div>
      </div>
    </div>
  );
}
